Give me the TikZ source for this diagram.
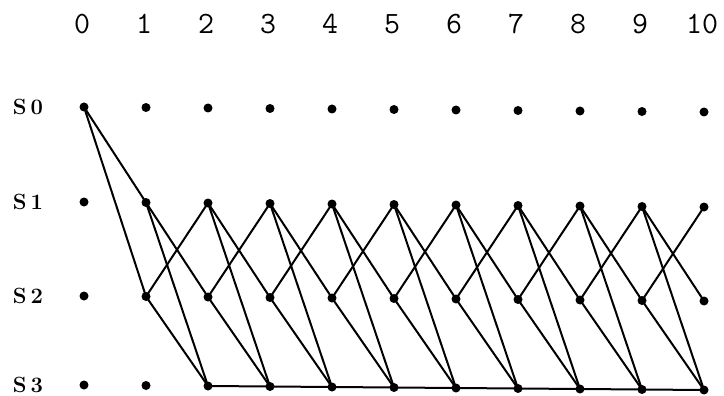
\documentclass[tikz,border=0pt]{standalone}
\begin{document}
\begin{tikzpicture}[x=1pt,y=-1pt,
  dot/.style={circle,fill=black,inner sep=0pt,minimum size=9pt},
  edge/.style={line width=2pt,line cap=round},
  collab/.style={font=\fontsize{31}{33}\selectfont\ttfamily},
  rowlab/.style={font=\fontsize{22}{24}\selectfont\bfseries}]
\useasboundingbox (0,0) rectangle (724,396);
\foreach \c in {0,...,10} {
  \pgfmathsetmacro\xx{84+62*\c}
  \foreach \r/\yy in {0/107,1/202,2/296,3/385} {
    \node[dot] (n\c-\r) at (\xx,\yy+0.5*\c) {};
  }
  \node[collab] (t\c) at (\xx-2,24) {\c};
}
\foreach \r/\yy in {0/107,1/202,2/296,3/385} {
  \node[rowlab] (s\r) at (28,\yy) {S\kern4pt\r};
}
\draw[edge] (n0-0.center) -- (n1-1.center);
\draw[edge] (n0-0.center) -- (n1-2.center);
\foreach \t in {1,...,9} {
  \pgfmathtruncatemacro\u{\t+1}
  \draw[edge] (n\t-1.center) -- (n\u-2.center);
  \draw[edge] (n\t-1.center) -- (n\u-3.center);
  \draw[edge] (n\t-2.center) -- (n\u-1.center);
  \draw[edge] (n\t-2.center) -- (n\u-3.center);
}
\foreach \t in {2,...,9} {
  \pgfmathtruncatemacro\u{\t+1}
  \draw[edge] (n\t-3.center) -- (n\u-3.center);
}
\end{tikzpicture}
\end{document}
